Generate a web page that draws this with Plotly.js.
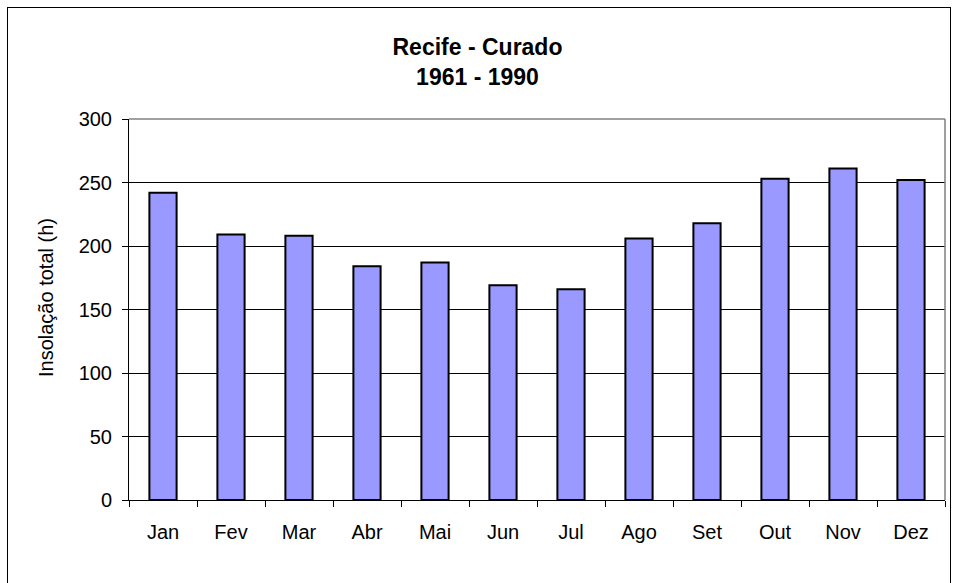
<!DOCTYPE html>
<html>
<head>
<meta charset="utf-8">
<script src="https://cdn.plot.ly/plotly-3.0.1.min.js"></script>
<style>
  html, body { margin: 0; padding: 0; background: #ffffff; overflow: hidden; }
  #wrap { position: relative; width: 955px; height: 583px; }
  #chart { position: absolute; left: 0; top: 0; width: 955px; height: 583px; }
  #frame { position: absolute; left: 7px; top: 7px; width: 944px; height: 620px;
           border: 1px solid #000; pointer-events: none; box-sizing: border-box; }
</style>
</head>
<body>
<div id="wrap">
  <div id="chart"></div>
  <div id="frame"></div>
</div>
<script>
// Data
const months = ["Jan", "Fev", "Mar", "Abr", "Mai", "Jun", "Jul", "Ago", "Set", "Out", "Nov", "Dez"];
const insolacao = [242, 209, 208, 184, 187, 169, 166, 206, 218, 253, 261, 252];
const yTicks = [0, 50, 100, 150, 200, 250, 300];

const chartTitle = "Recife - Curado<br>1961 - 1990";
const yTitle = "Insolação total (h)";

const FONT = '"Liberation Sans", Arial, sans-serif';

const trace = {
  type: "bar",
  x: months,
  y: insolacao,
  marker: { color: "#9999FF", line: { color: "#000000", width: 2 } },
  hoverinfo: "x+y"
};

const layout = {
  width: 955,
  height: 583,
  margin: { l: 129, r: 10, t: 119, b: 83, pad: 0 },
  paper_bgcolor: "rgba(0,0,0,0)",
  plot_bgcolor: "#ffffff",
  font: { family: FONT, color: "#000000", size: 20 },
  showlegend: false,
  bargap: 0.6,
  title: {
    text: "<b>" + chartTitle + "</b>",
    font: { family: FONT, size: 23, color: "#000000" },
    x: 0.5, xref: "container", xanchor: "center",
    y: 1 - 55 / 583, yref: "container", yanchor: "middle"
  },
  xaxis: {
    type: "category",
    showgrid: false,
    showline: true, linecolor: "#000000", linewidth: 1,
    ticks: "outside", ticklen: 6, tickcolor: "#000000", tickwidth: 1,
    tickson: "boundaries",
    tickfont: { family: FONT, size: 20, color: "#000000" },
    ticklabelstandoff: 14,
    zeroline: false,
    fixedrange: true
  },
  yaxis: {
    range: [0, 300],
    tickvals: yTicks,
    ticktext: yTicks.map(String),
    showgrid: true, gridcolor: "#000000", gridwidth: 1,
    showline: true, linecolor: "#000000", linewidth: 1,
    ticks: "outside", ticklen: 6, tickcolor: "#000000", tickwidth: 1,
    tickfont: { family: FONT, size: 20, color: "#000000" },
    ticklabelstandoff: 6,
    zeroline: false,
    fixedrange: true
  },
  annotations: [
    { text: yTitle, textangle: -90, showarrow: false,
      xref: "paper", yref: "paper",
      x: (46 - 129) / (955 - 129 - 10), xanchor: "center",
      y: (500 - 298) / (500 - 119), yanchor: "middle",
      font: { family: FONT, size: 20, color: "#000000" } }
  ],
  shapes: [
    { type: "line", xref: "paper", yref: "paper", x0: 0, x1: 1, y0: 1, y1: 1,
      line: { color: "#808080", width: 1.5 }, layer: "above" },
    { type: "line", xref: "paper", yref: "paper", x0: 1, x1: 1, y0: 0, y1: 1,
      line: { color: "#808080", width: 1.5 }, layer: "above" }
  ]
};

Plotly.newPlot("chart", [trace], layout, { displayModeBar: false, staticPlot: true });
</script>
</body>
</html>
